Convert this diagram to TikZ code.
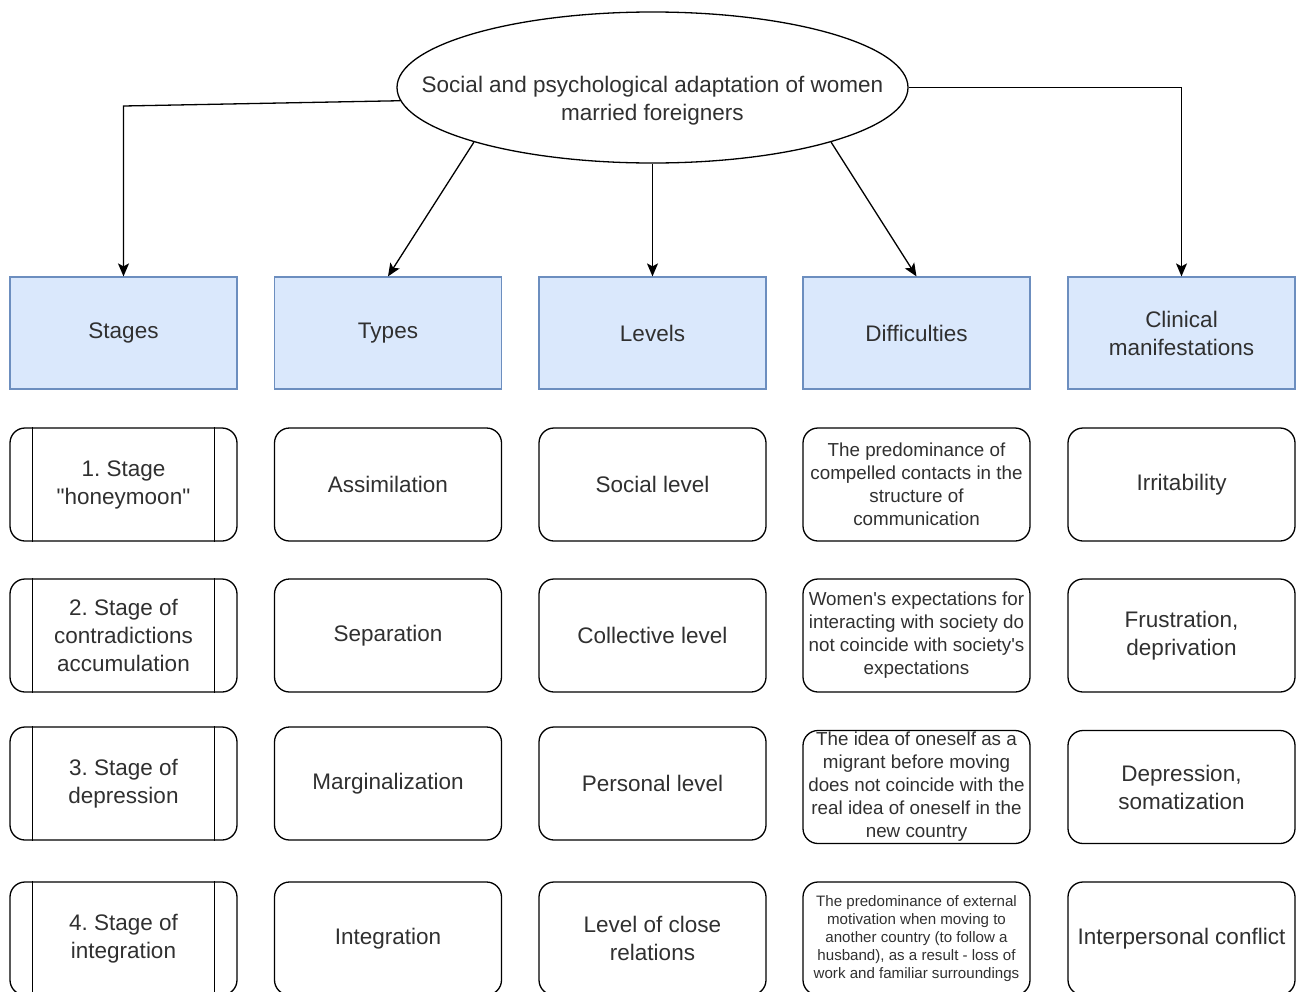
\documentclass[tikz,border=0pt]{standalone}
\usepackage{fontspec}
\setmainfont{Liberation Sans}
\usetikzlibrary{arrows.meta,shapes.geometric}
\definecolor{hdrfill}{HTML}{DAE8FC}
\definecolor{hdrdraw}{HTML}{6C8EBF}
\definecolor{txt}{HTML}{303030}
\frenchspacing
\tikzset{
  big/.style={font=\fontsize{22.5}{28}\selectfont},
  mid/.style={font=\fontsize{18.8}{23}\selectfont},
  small/.style={font=\fontsize{15.1}{18}\selectfont},
  hdr/.style={draw=hdrdraw, fill=hdrfill, line width=1.2pt, minimum width=227pt, minimum height=112pt, inner sep=0pt, align=center, text=txt, big},
  rbox/.style={draw=black, line width=1.3pt, rounded corners=15pt, minimum width=227pt, minimum height=113pt, inner sep=0pt, align=center, text=txt},
  arr/.style={draw=black, line width=1.3pt, -{Stealth[length=13pt,width=11pt,inset=3pt]}},
  inner/.style={draw=black, line width=1.3pt}
}
\begin{document}
\begin{tikzpicture}[x=1pt,y=-1pt]
\useasboundingbox (0,0) rectangle (1296,991);
% title ellipse
\node[ellipse, draw=black, line width=1.3pt, minimum width=511pt, minimum height=151pt, inner sep=0pt] (ell) at (652.5,87.5) {};
\node[align=center, text=txt, big, inner sep=0pt] (title) at (652.5,101) {Social and psychological adaptation of women\\married foreigners};
% headers
\node[hdr] (h1) at (123.5,333) {Stages};
\node[hdr] (h2) at (388,333) {Types};
\node[hdr] (h3) at (652.5,333) {Levels};
\node[hdr] (h4) at (916.5,333) {Difficulties};
\node[hdr] (h5) at (1181.5,333) {Clinical\\manifestations};
% connectors
\coordinate (c1) at (123.5,106);
\draw[arr] (ell.183) -- (c1) -- (h1.north);
\draw[arr] (ell.197) -- (h2.north);
\draw[arr] (ell.south) -- (h3.north);
\draw[arr] (ell.343) -- (h4.north);
\draw[arr] (ell.east) -| (h5.north);
% stages
\node[rbox, big] (s1) at (123.5,484.5) {1. Stage\\\textquotedbl honeymoon\textquotedbl};
\node[rbox, big] (s2) at (123.5,635.5) {2. Stage of\\contradictions\\accumulation};
\node[rbox, big] (s3) at (123.5,783.5) {3. Stage of\\depression};
\node[rbox, big] (s4) at (123.5,938.5) {4. Stage of\\integration};
\foreach \s in {s1,s2,s3,s4}{
  \draw[inner] ([xshift=23pt]\s.north west) -- ([xshift=23pt]\s.south west);
  \draw[inner] ([xshift=-23pt]\s.north east) -- ([xshift=-23pt]\s.south east);
}
% types
\node[rbox, big] (t1) at (388,484.5) {Assimilation};
\node[rbox, big] (t2) at (388,635.5) {Separation};
\node[rbox, big] (t3) at (388,783.5) {Marginalization};
\node[rbox, big] (t4) at (388,938.5) {Integration};
% levels
\node[rbox, big] (l1) at (652.5,484.5) {Social level};
\node[rbox, big] (l2) at (652.5,635.5) {Collective level};
\node[rbox, big] (l3) at (652.5,783.5) {Personal level};
\node[rbox, big] (l4) at (652.5,938.5) {Level of close\\relations};
% difficulties
\node[rbox, mid] (d1) at (916.5,484.5) {The predominance of\\compelled contacts in the\\structure of\\communication};
\node[rbox, mid] (d2) at (916.5,635.5) {Women\textquotesingle s expectations for\\interacting with society do\\not coincide with society\textquotesingle s\\expectations};
\node[rbox, mid] (d3) at (916.5,787) {The idea of oneself as a\\migrant before moving\\does not coincide with the\\real idea of oneself in the\\new country};
\node[rbox, small] (d4) at (916.5,938.5) {The predominance of external\\motivation when moving to\\another country (to follow a\\husband), as a result - loss of\\work and familiar surroundings};
% clinical
\node[rbox, big] (k1) at (1181.5,484.5) {Irritability};
\node[rbox, big] (k2) at (1181.5,635.5) {Frustration,\\deprivation};
\node[rbox, big] (k3) at (1181.5,787) {Depression,\\somatization};
\node[rbox, big] (k4) at (1181.5,938.5) {Interpersonal conflict};
\end{tikzpicture}
\end{document}
